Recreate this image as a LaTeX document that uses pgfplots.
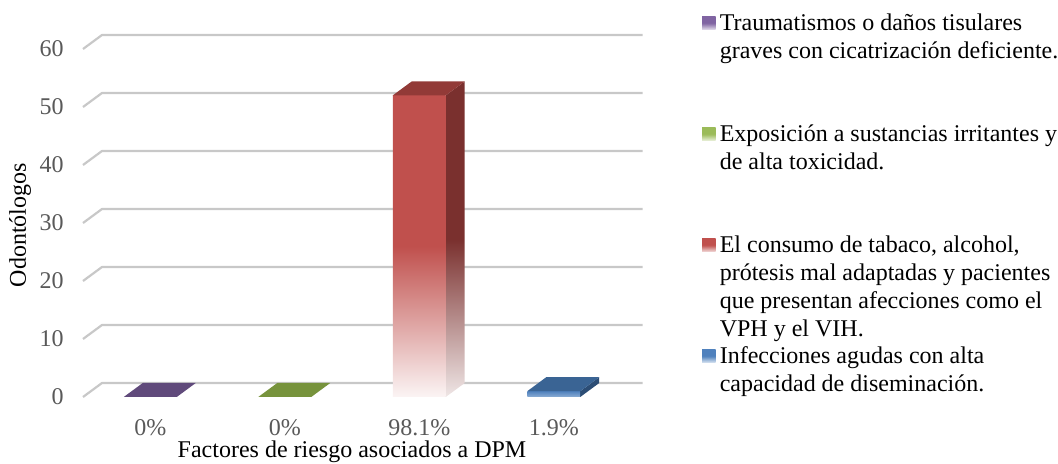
\documentclass[border=0pt]{standalone}
\usepackage{fontspec}
\setmainfont{Liberation Serif}
\usepackage{pgfplots}
\usepackage{pgfplotstable}
\pgfplotsset{compat=1.18}

\definecolor{gridgray}{HTML}{C8C8C8}
\definecolor{ticktext}{HTML}{595959}
\definecolor{purpTop}{HTML}{604A7B}
\definecolor{greenTop}{HTML}{77933C}
\definecolor{redFront}{HTML}{C0504D}
\definecolor{redTop}{HTML}{923A37}
\definecolor{redSide}{HTML}{7A302E}
\definecolor{blueFront}{HTML}{4F81BD}
\definecolor{blueTop}{HTML}{3A6494}
\definecolor{blueSide}{HTML}{2C4D75}
\definecolor{keyPurple}{HTML}{8064A2}
\definecolor{keyGreen}{HTML}{9BBB59}
\definecolor{keyRed}{HTML}{C0504D}
\definecolor{keyBlue}{HTML}{4F81BD}

% number of dentists per risk factor
\pgfplotstableread{
pos value
0 0
1 0
2 52
3 1
}\riskdata

% oblique 3-D view: half bar width, depth offset in x and y (axis units)
\def\hw{0.197}
\def\dx{0.1413}
\def\dy{2.414}

% #1 table row, #2 front style, #3 top style, #4 side style
\newcommand{\columnbar}[4]{%
  \pgfplotstablegetelem{#1}{pos}\of\riskdata\let\cpos\pgfplotsretval
  \pgfplotstablegetelem{#1}{value}\of\riskdata\let\cval\pgfplotsretval
  \pgfmathsetmacro\xl{\cpos-\hw}%
  \pgfmathsetmacro\xr{\cpos+\hw}%
  \pgfmathsetmacro\xlb{\cpos-\hw+\dx}%
  \pgfmathsetmacro\xrb{\cpos+\hw+\dx}%
  \pgfmathsetmacro\vt{\cval+\dy}%
  \pgfmathtruncatemacro\tall{\cval>0}%
  \ifnum\tall=1
    \edef\faces{%
      \noexpand\addplot[forget plot, draw=none, #4] coordinates {(\xr,0) (\xrb,\dy) (\xrb,\vt) (\xr,\cval)} -- cycle;%
      \noexpand\addplot[forget plot, draw=none, #2] coordinates {(\xl,0) (\xr,0) (\xr,\cval) (\xl,\cval)} -- cycle;%
    }\faces
  \fi
  \edef\faces{\noexpand\addplot[forget plot, draw=none, #3] coordinates {(\xl,\cval) (\xr,\cval) (\xrb,\vt) (\xlb,\vt)} -- cycle;}\faces
}

% legend entry: #1 top of the entry, #2 key colour, #3 text
\newcommand{\legendentry}[3]{%
  \node[anchor=north west, inner sep=0pt, minimum width=6.7pt, minimum height=6.7pt,
        top color=#2, bottom color=#2!20!white, middle color=#2] at (309.4pt,#1-1.25pt) {};
  \node[anchor=north west, inner sep=0pt, align=left,
        font=\fontsize{12pt}{14pt}\selectfont] at (318.2pt,#1) {#3};
}

\begin{document}
\begin{tikzpicture}[font=\fontsize{12pt}{14pt}\selectfont]
\useasboundingbox (-41.5pt,-33.5pt) rectangle (487.5pt,198.5pt);
\begin{axis}[
  at={(0pt,0pt)}, anchor=south west,
  scale only axis, width=269pt, height=174pt,
  xmin=-0.5, xmax=3.5, ymin=0, ymax=60,
  clip=false,
  axis line style={draw=none},
  tick style={draw=none},
  major tick length=0pt,
  xtick={0,1,2,3},
  xticklabels={0\%,0\%,98.1\%,1.9\%},
  ytick={0,10,...,60},
  /pgf/number format/assume math mode=true,
  xticklabel style={anchor=base, inner sep=0pt, yshift=-19.5pt, text=ticktext},
  yticklabel style={anchor=east, inner sep=0pt, xshift=-9.5pt, text=ticktext},
  xlabel={Factores de riesgo asociados a DPM},
  xlabel style={at={(axis description cs:0.5,-0.158)}, anchor=center, inner sep=0pt},
  ylabel={Odontólogos},
  ylabel style={at={(axis description cs:-0.117,0.494)}, anchor=center, inner sep=0pt},
]
% gridlines: side wall diagonal and back wall
\pgfplotsinvokeforeach{0,10,...,60}{%
  \pgfmathsetmacro\gb{#1+\dy}%
  \pgfmathsetmacro\gx{-0.5+\dx}%
  \edef\gridline{\noexpand\addplot[forget plot, gridgray, line width=1.1pt, line join=round] coordinates {(-0.5,#1) (\gx,\gb) (3.66,\gb)};}\gridline
}

% columns
\columnbar{0}{fill=purpTop}{fill=purpTop}{fill=purpTop}
\columnbar{1}{fill=greenTop}{fill=greenTop}{fill=greenTop}
\columnbar{2}{top color=redFront, bottom color=redFront!6!white, middle color=redFront}{fill=redTop}{top color=redSide, bottom color=redSide!12!white, middle color=redSide}
\columnbar{3}{top color=blueFront, bottom color=blueFront!65!white}{fill=blueTop}{fill=blueSide}
\end{axis}

% legend, entries evenly spaced
\legendentry{191.75pt}{keyPurple}{Traumatismos o daños tisulares\\graves con cicatrización deficiente.}
\legendentry{136.25pt}{keyGreen}{Exposición a sustancias irritantes y\\de alta toxicidad.}
\legendentry{80.75pt}{keyRed}{El consumo de tabaco, alcohol,\\prótesis mal adaptadas y pacientes\\que presentan afecciones como el\\VPH y el VIH.}
\legendentry{25.25pt}{keyBlue}{Infecciones agudas con alta\\capacidad de diseminación.}
\end{tikzpicture}
\end{document}
